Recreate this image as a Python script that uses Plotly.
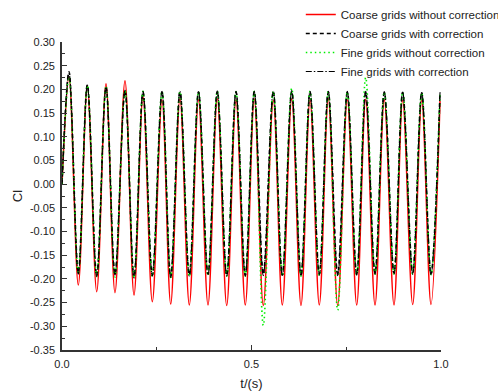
import plotly.graph_objects as go

# ---- data ----
t_start = 0.0
cl_start = 0.0

t_peaks = [0.0185, 0.0668, 0.1161, 0.1662, 0.2137, 0.2639, 0.3113, 0.3602, 0.4098, 0.4591,
           0.5074, 0.5575, 0.6061, 0.6544, 0.7026, 0.7528, 0.8013, 0.8504, 0.8989, 0.9491, 0.9974]
t_troughs = [0.0430, 0.0916, 0.1398, 0.1900, 0.2383, 0.2868, 0.3359, 0.3852, 0.4346, 0.4836,
             0.5311, 0.5813, 0.6306, 0.6789, 0.7274, 0.7776, 0.8259, 0.8760, 0.9253, 0.9736]

coarse_nocorr_peaks = [0.226, 0.207, 0.212, 0.218, 0.185, 0.178, 0.181, 0.178, 0.180, 0.178, 0.180,
                       0.177, 0.180, 0.178, 0.180, 0.178, 0.179, 0.178, 0.177, 0.177, 0.176]
coarse_nocorr_troughs = [-0.213, -0.227, -0.229, -0.234, -0.248, -0.253, -0.255, -0.255, -0.256, -0.255,
                         -0.256, -0.255, -0.256, -0.255, -0.256, -0.255, -0.255, -0.255, -0.254, -0.254]

coarse_corr_peaks = [0.237, 0.210, 0.205, 0.196, 0.195, 0.195, 0.195, 0.195, 0.196, 0.195, 0.196,
                     0.195, 0.196, 0.195, 0.195, 0.194, 0.194, 0.194, 0.194, 0.193, 0.193]
coarse_corr_troughs = [-0.186, -0.193, -0.190, -0.196, -0.192, -0.196, -0.192, -0.190, -0.192, -0.192,
                       -0.190, -0.192, -0.192, -0.190, -0.190, -0.190, -0.188, -0.188, -0.188, -0.190]

fine_nocorr_peaks = [0.226, 0.208, 0.207, 0.198, 0.196, 0.196, 0.195, 0.195, 0.196, 0.195, 0.196,
                     0.196, 0.202, 0.196, 0.195, 0.195, 0.225, 0.194, 0.194, 0.193, 0.193]
fine_nocorr_troughs = [-0.190, -0.195, -0.196, -0.198, -0.195, -0.197, -0.195, -0.193, -0.194, -0.194,
                       -0.298, -0.194, -0.194, -0.193, -0.266, -0.192, -0.190, -0.190, -0.190, -0.191]

fine_corr_peaks = [0.235, 0.209, 0.205, 0.198, 0.196, 0.196, 0.196, 0.196, 0.196, 0.196, 0.196,
                   0.196, 0.197, 0.196, 0.196, 0.196, 0.196, 0.195, 0.195, 0.194, 0.194]
fine_corr_troughs = [-0.190, -0.195, -0.192, -0.198, -0.194, -0.197, -0.194, -0.192, -0.194, -0.194,
                     -0.193, -0.194, -0.194, -0.192, -0.193, -0.192, -0.190, -0.190, -0.190, -0.191]

series_names = ["Coarse grids without correction", "Coarse grids with correction",
                "Fine grids without correction", "Fine grids with correction"]

y_tick_vals = [0.30, 0.25, 0.20, 0.15, 0.10, 0.05, 0.00, -0.05, -0.10, -0.15, -0.20, -0.25, -0.30, -0.35]
y_tick_text = ["0.30", "0.25", "0.20", "0.15", "0.10", "0.05", "0.00", "-0.05", "-0.10", "-0.15",
               "-0.20", "-0.25", "-0.30", "-0.35"]
x_tick_vals = [0.0, 0.5, 1.0]
x_tick_text = ["0.0", "0.5", "1.0"]


def build(peaks, troughs):
    ts, vs = [t_start], [cl_start]
    for i in range(len(t_peaks)):
        ts.append(t_peaks[i]); vs.append(peaks[i])
        if i < len(t_troughs):
            ts.append(t_troughs[i]); vs.append(troughs[i])
    return ts, vs


styles = [
    dict(color="#ff0000", width=1.5, dash="solid"),
    dict(color="#000000", width=1.6, dash="4px,3px"),
    dict(color="#00ee00", width=1.6, dash="1.5px,3px"),
    dict(color="#000000", width=1.1, dash="6px,2px,1.5px,2px"),
]
data_sets = [
    (coarse_nocorr_peaks, coarse_nocorr_troughs),
    (coarse_corr_peaks, coarse_corr_troughs),
    (fine_nocorr_peaks, fine_nocorr_troughs),
    (fine_corr_peaks, fine_corr_troughs),
]

fig = go.Figure()
for name, (pk, tr), st in zip(series_names, data_sets, styles):
    ts, vs = build(pk, tr)
    fig.add_trace(go.Scatter(x=ts, y=vs, mode="lines", name=name,
                             line=dict(color=st["color"], width=st["width"], dash=st["dash"],
                                       shape="spline", smoothing=1.0)))

font_family = "Liberation Sans, Arial, sans-serif"
fig.update_layout(
    width=498, height=391,
    margin=dict(l=62, r=57, t=42, b=41, autoexpand=False),
    paper_bgcolor="white", plot_bgcolor="white",
    font=dict(family=font_family, size=11, color="#222222"),
    showlegend=True,
    legend=dict(xref="container", yref="container", x=0.604, y=1.0,
                xanchor="left", yanchor="top",
                bgcolor="rgba(0,0,0,0)", font=dict(size=11.5, color="#222222"),
                borderwidth=0),
    xaxis=dict(range=[0, 1], tickmode="array", tickvals=x_tick_vals, ticktext=x_tick_text,
               ticks="inside", ticklen=5, tickwidth=1.2, tickcolor="#333333",
               minor=dict(tickmode="linear", tick0=0, dtick=0.25, ticks="inside", ticklen=3,
                          tickcolor="#333333", tickwidth=1),
               showline=True, linecolor="#333333", linewidth=1.6, mirror=False,
               showgrid=False, zeroline=False, ticklabelstandoff=3,
               title=dict(text="t/(s)", font=dict(size=13), standoff=13)),
    yaxis=dict(range=[-0.35, 0.30], tickmode="array", tickvals=y_tick_vals, ticktext=y_tick_text,
               ticks="inside", ticklen=5, tickwidth=1.2, tickcolor="#333333",
               minor=dict(tickmode="linear", tick0=0, dtick=0.025, ticks="inside", ticklen=3,
                          tickcolor="#333333", tickwidth=1),
               showline=True, linecolor="#333333", linewidth=1.6, mirror=False,
               showgrid=False, zeroline=False, ticklabelstandoff=3,
               title=dict(text="Cl", font=dict(size=13), standoff=4)),
)

fig.write_html("out.html")
